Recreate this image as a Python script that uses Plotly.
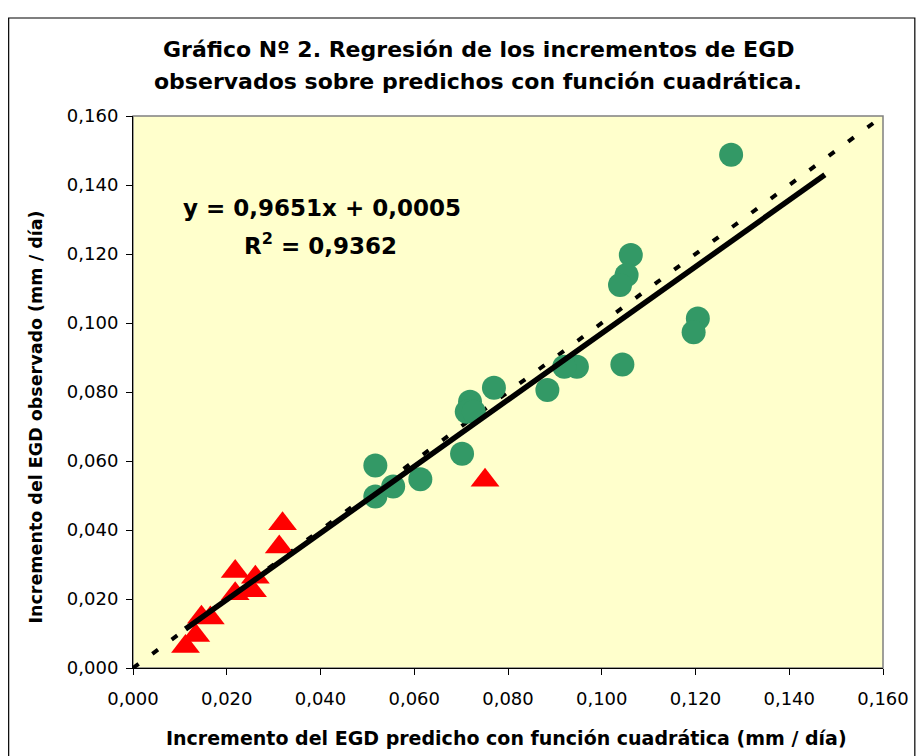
import plotly.graph_objects as go

# Green circles (observed vs predicted)
circ_x = [0.1276, 0.1062, 0.1053, 0.1039, 0.1205, 0.1196, 0.1044, 0.0947, 0.0920,
          0.0884, 0.0770, 0.0719, 0.0712, 0.0727, 0.0702, 0.0613, 0.0517, 0.0517, 0.0555]
circ_y = [0.1488, 0.1197, 0.1139, 0.1110, 0.1013, 0.0973, 0.0880, 0.0873, 0.0873,
          0.0806, 0.0812, 0.0772, 0.0743, 0.0743, 0.0621, 0.0547, 0.0587, 0.0497, 0.0526]

# Red triangles
tri_x = [0.0319, 0.0312, 0.0218, 0.0261, 0.0218, 0.0255, 0.0146, 0.0165, 0.0134, 0.0112, 0.0751]
tri_y = [0.0418, 0.0351, 0.0280, 0.0263, 0.0215, 0.0224, 0.0147, 0.0145, 0.0094, 0.0062, 0.0544]

# Trend line (from the chart label), forecast forward 0.02
slope = 0.9651
intercept = 0.0005
forecast_forward = 0.02

# 1:1 reference line
ref_x = [0.0, 0.16]
ref_y = [0.0, 0.16]

tick_vals = [0.0, 0.02, 0.04, 0.06, 0.08, 0.10, 0.12, 0.14, 0.16]

all_x = circ_x + tri_x
tx = [min(all_x), max(all_x) + forecast_forward]
ty = [slope * v + intercept for v in tx]

FONT = "DejaVu Sans, Liberation Sans, Arial, sans-serif"

fig = go.Figure()
fig.add_trace(go.Scatter(x=ref_x, y=ref_y, mode="lines",
                         line=dict(color="black", width=4, dash="7px,17px"),
                         hoverinfo="skip", showlegend=False))
fig.add_trace(go.Scatter(x=circ_x, y=circ_y, mode="markers",
                         marker=dict(symbol="circle", size=24, color="#339966",
                                     line=dict(width=0)),
                         showlegend=False))
fig.add_trace(go.Scatter(x=tri_x, y=tri_y, mode="markers",
                         marker=dict(symbol="triangle-up", size=25, color="#FF0000",
                                     line=dict(width=0)),
                         showlegend=False))
fig.add_trace(go.Scatter(x=tx, y=ty, mode="lines",
                         line=dict(color="black", width=5.5),
                         hoverinfo="skip", showlegend=False))

L, R, T, B = 133, 34, 116, 88
W, H = 921, 756
pw, ph = W - L - R, H - T - B

def px_x(p):
    return (p - L) / pw

def px_y(p):
    return (H - B - p) / ph

axis_common = dict(range=[0, 0.16], tickvals=tick_vals, tickformat=".3f",
                   showgrid=False, zeroline=False, showline=True, linecolor="black",
                   linewidth=1, ticks="outside", ticklen=6, tickcolor="black",
                   tickfont=dict(family=FONT, size=18, color="black"))

def label(text, x, y, size, angle=0):
    return dict(text=text, xref="paper", yref="paper", x=px_x(x), y=px_y(y),
                showarrow=False, textangle=angle, xanchor="center", yanchor="middle",
                font=dict(family=FONT, size=size, color="black"))

fig.update_layout(
    width=W, height=H,
    margin=dict(l=L, r=R, t=T, b=B),
    paper_bgcolor="white",
    plot_bgcolor="#FFFFCC",
    separators=",.",
    xaxis=dict(**axis_common, ticklabelstandoff=8),
    yaxis=dict(**axis_common, ticklabelstandoff=4),
    shapes=[
        dict(type="rect", xref="paper", yref="paper", x0=0, x1=1, y0=0, y1=1,
             line=dict(color="#808080", width=1.5), layer="below"),
        dict(type="rect", xref="paper", yref="paper",
             x0=px_x(8), x1=px_x(919), y0=px_y(760), y1=px_y(18),
             line=dict(color="black", width=1.2)),
    ],
    annotations=[
        label("<b>Gráfico Nº 2. Regresión de los incrementos de EGD</b>", 480, 50, 22),
        label("<b>observados sobre predichos con función cuadrática.</b>", 480, 82, 22),
        label("<b>Incremento del EGD observado (mm / día)</b>", 35, 417, 17.5, -90),
        label("<b>Incremento del EGD predicho con función cuadrática (mm / día)</b>", 508, 738, 19),
        label("<b>y = 0,9651x + 0,0005</b>", 323, 208, 23),
        label("<b>R<sup>2</sup> = 0,9362</b>", 322, 244, 23),
    ],
)

fig.write_html("out.html", post_script="document.body.style.margin='0px';",
               config={"displayModeBar": False})
